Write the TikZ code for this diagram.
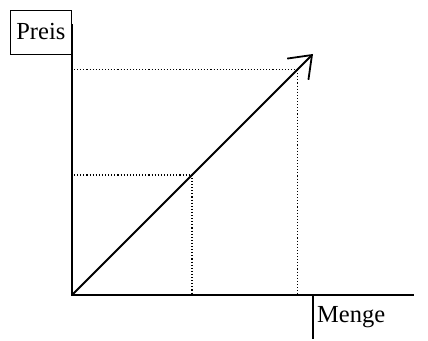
\documentclass[tikz,border=0pt]{standalone}
\usepackage{fontspec}
\setmainfont{Liberation Serif}
\usetikzlibrary{arrows.meta, positioning, calc}

\begin{document}
\begin{tikzpicture}[x=1pt, y=1pt, font=\fontsize{24.5}{27}\selectfont,
    axis/.style={line width=1.8pt},
    guide/.style={dotted, line width=1.1pt},
    labelbox/.style={draw, line width=1.3pt, inner sep=0pt, minimum width=61pt, minimum height=44pt}]
  \useasboundingbox (0,0) rectangle (428,340);

  % axes
  \coordinate (O) at (72,45);
  \coordinate (ytop) at (72,316);
  \coordinate (xend) at (414,45);
  \draw[axis] (ytop) -- (O) -- (xend);

  % axis labels
  \node[labelbox, anchor=north east] (preis) at (72,330) {\raisebox{3pt}{Preis}};
  \node[inner sep=0pt, minimum height=44pt, anchor=north west, text width=66pt, align=left] (menge) at (313,45) {\hspace*{4pt}Menge};
  \draw[line width=1.3pt] (menge.north west) -- (menge.south west);

  % price line
  \coordinate (tip) at (313,286);
  \draw[axis, -{Straight Barb[length=20pt, width=30pt, line width=1.8pt]}] (O) -- (tip);

  % read-off points
  \coordinate (p1) at ($(O)!0.498!(tip)$);
  \coordinate (p2) at ($(O)!0.934!(tip)$);
  \draw[guide] ($(O |- p1)+(2,0)$) -- (p1) -- (p1 |- O);
  \draw[guide] ($(O |- p2)+(2,0)$) -- (p2) -- (p2 |- O);
\end{tikzpicture}
\end{document}
